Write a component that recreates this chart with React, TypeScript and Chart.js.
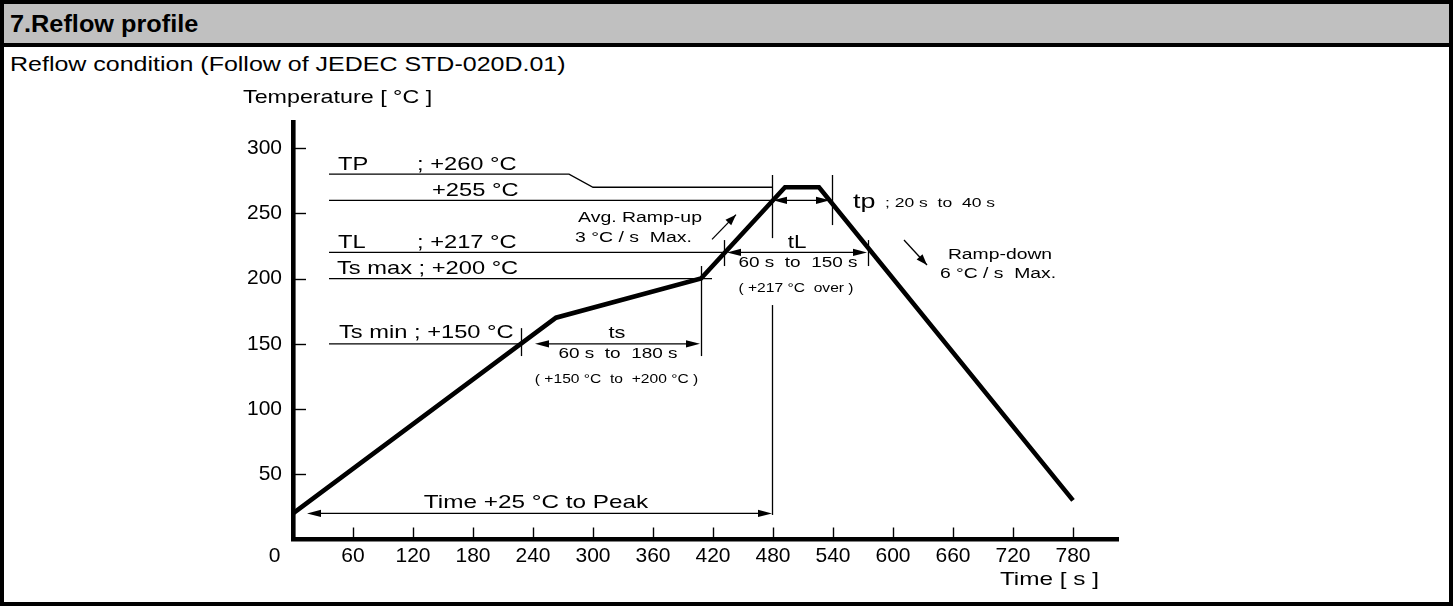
import React, { useEffect, useRef } from "react";
import { Chart, registerables } from "chart.js";

Chart.register(...registerables);

// ---- data ----
const profileTimes = [0, 263, 408, 492, 526, 780];
const profileTemps = [20, 170, 200, 270, 270, 30];
const xTickValues = [60, 120, 180, 240, 300, 360, 420, 480, 540, 600, 660, 720, 780];
const yTickValues = [50, 100, 150, 200, 250, 300];
const timeRange = [0, 825];
const tempRange = [0, 320];

// guide level lines as [time, temp] polylines
const levelTP = [[36, 280], [276, 280], [300, 270], [479, 270]];
const level255 = [[36, 260], [479, 260]];
const levelTL = [[36, 220], [431, 220]];
const levelTsMax = [[36, 200], [419, 200]];
const levelTsMin = [[36, 150], [228, 150]];
const levelLines = [levelTP, level255, levelTL, levelTsMax, levelTsMin];

// vertical markers: [time, fromTemp, toTemp]
const markerLines = [
  [228, 140.6, 162],
  [408, 140.6, 209.6],
  [431, 209.6, 229.5],
  [575, 209.6, 229.5],
  [479, 231, 279.4],
  [479, 18.8, 179.7],
  [539, 241, 279.4],
];

// double-headed span arrows: [fromTime, toTime, temp]
const spanArrows = [
  [242, 407, 150],
  [434, 574, 220],
  [480, 537, 260],
  [14, 479, 20],
];

// single-headed slope arrows: [t1, T1, t2, T2] (head at t2,T2)
const slopeArrows = [
  [419, 230, 443, 249],
  [611, 229.6, 634, 210.4],
];

// annotation texts: [text, time, temp, align]
const annotationTexts: [string, number, number, CanvasTextAlign][] = [
  ["TP", 45, 287, "left"],
  ["; +260 °C", 124, 287, "left"],
  ["+255 °C", 139, 267.3, "left"],
  ["TL", 45, 227.3, "left"],
  ["; +217 °C", 124, 227.3, "left"],
  ["Ts max ; +200 °C", 44, 207.3, "left"],
  ["Ts min ; +150 °C", 46, 158, "left"],
  ["ts", 324, 158, "center"],
  ["60 s  to  180 s", 325, 142.2, "center"],
  ["( +150 °C  to  +200 °C )", 323.5, 122.3, "center"],
  ["Avg. Ramp-up", 347, 246.4, "center"],
  ["3 °C / s  Max.", 340.5, 231.1, "center"],
  ["tL", 504, 227.5, "center"],
  ["60 s  to  150 s", 505, 211.7, "center"],
  ["( +217 °C  over )", 503, 192.5, "center"],
  ["tp", 560, 258.5, "left"],
  ["; 20 s  to  40 s", 592, 258, "left"],
  ["Ramp-down", 707, 218, "center"],
  ["6 °C / s  Max.", 705, 203.3, "center"],
  ["Time +25 °C to Peak", 243, 28.2, "center"],
  ["Temperature [ °C ]", -50, 338.2, "left"],
  ["Time [ s ]", 806, -31, "right"],
];
const originLabel = ["0", -18.5, -12.6];

// ---- styles ----
const FONT = '"Liberation Sans", Arial, Helvetica, sans-serif';
const SX = 1.28;
const textSizes: Record<string, number> = {
  "TP": 18.5, "; +260 °C": 18.5, "+255 °C": 18.5, "TL": 18.5, "; +217 °C": 18.5,
  "Ts max ; +200 °C": 18.5, "Ts min ; +150 °C": 18.5,
  "ts": 17, "tL": 17.5, "tp": 21,
  "60 s  to  180 s": 14.8, "60 s  to  150 s": 14.8,
  "( +150 °C  to  +200 °C )": 12.2, "( +217 °C  over )": 12.2,
  "Avg. Ramp-up": 15.2, "3 °C / s  Max.": 15.2, "Ramp-down": 15.1, "6 °C / s  Max.": 15.1,
  "; 20 s  to  40 s": 13.7,
  "Time +25 °C to Peak": 19, "Temperature [ °C ]": 18.2, "Time [ s ]": 19,
};

function arrowHead(ctx: CanvasRenderingContext2D, tipX: number, tipY: number, fromX: number, fromY: number, len: number, half: number) {
  const a = Math.atan2(tipY - fromY, tipX - fromX);
  ctx.beginPath();
  ctx.moveTo(tipX, tipY);
  ctx.lineTo(tipX - len * Math.cos(a) + half * Math.sin(a), tipY - len * Math.sin(a) - half * Math.cos(a));
  ctx.lineTo(tipX - len * Math.cos(a) - half * Math.sin(a), tipY - len * Math.sin(a) + half * Math.cos(a));
  ctx.closePath();
  ctx.fill();
}

const annotationPlugin = {
  id: "reflowAnnotations",
  afterDatasetsDraw(chart: any) {
    const ctx: CanvasRenderingContext2D = chart.ctx;
    const xs = chart.scales.x;
    const ys = chart.scales.y;
    const X = (t: number) => xs.getPixelForValue(t);
    const Y = (v: number) => ys.getPixelForValue(v);
    const area = chart.chartArea;
    ctx.save();
    ctx.strokeStyle = "#000";
    ctx.fillStyle = "#000";
    ctx.lineCap = "butt";

    // tick marks (inside)
    ctx.lineWidth = 1.4;
    yTickValues.forEach((v) => {
      const y = Math.round(Y(v)) + 0.5;
      ctx.beginPath();
      ctx.moveTo(area.left, y);
      ctx.lineTo(area.left + 13, y);
      ctx.stroke();
    });
    xTickValues.forEach((v) => {
      const x = Math.round(X(v)) + 0.5;
      ctx.beginPath();
      ctx.moveTo(x, area.bottom);
      ctx.lineTo(x, area.bottom - 12);
      ctx.stroke();
    });

    // level lines
    ctx.lineWidth = 1.3;
    levelLines.forEach((pts) => {
      ctx.beginPath();
      pts.forEach(([t, v], i) => {
        const px = X(t), py = Y(v);
        if (i === 0) ctx.moveTo(px, py); else ctx.lineTo(px, py);
      });
      ctx.stroke();
    });

    // markers
    markerLines.forEach(([t, a, b]) => {
      const x = Math.round(X(t)) + 0.5;
      ctx.beginPath();
      ctx.moveTo(x, Y(a));
      ctx.lineTo(x, Y(b));
      ctx.stroke();
    });

    // span arrows
    spanArrows.forEach(([t1, t2, v]) => {
      const x1 = X(t1), x2 = X(t2), y = Y(v);
      ctx.beginPath();
      ctx.moveTo(x1 + 6, y);
      ctx.lineTo(x2 - 6, y);
      ctx.stroke();
      arrowHead(ctx, x1, y, x2, y, 14, 3.6);
      arrowHead(ctx, x2, y, x1, y, 14, 3.6);
    });

    // slope arrows
    slopeArrows.forEach(([t1, v1, t2, v2]) => {
      const x1 = X(t1), y1 = Y(v1), x2 = X(t2), y2 = Y(v2);
      ctx.beginPath();
      ctx.moveTo(x1, y1);
      ctx.lineTo(x2, y2);
      ctx.stroke();
      arrowHead(ctx, x2, y2, x1, y1, 11, 4);
    });

    // texts
    ctx.textBaseline = "middle";
    annotationTexts.forEach(([s, t, v, align]) => {
      ctx.save();
      ctx.translate(X(t), Y(v));
      ctx.scale(SX, 1);
      ctx.font = `${textSizes[s] || 16}px ${FONT}`;
      ctx.textAlign = align;
      ctx.fillText(s, 0, 0);
      ctx.restore();
    });
    ctx.font = `21px ${FONT}`;
    ctx.textAlign = "center";
    ctx.fillText(originLabel[0] as string, X(originLabel[1] as number), Y(originLabel[2] as number));
    ctx.restore();
  },
};

export default function App() {
  const canvasRef = useRef<HTMLCanvasElement | null>(null);

  useEffect(() => {
    const canvas = canvasRef.current;
    if (!canvas) return;
    const tickFont = { family: FONT, size: 21 };
    const chart = new Chart(canvas, {
      type: "line",
      data: {
        datasets: [
          {
            data: profileTimes.map((t, i) => ({ x: t, y: profileTemps[i] })),
            borderColor: "#000",
            borderWidth: 4.6,
            pointRadius: 0,
            tension: 0,
            fill: false,
            borderJoinStyle: "miter",
          },
        ],
      },
      options: {
        animation: false,
        responsive: false,
        events: [],
        layout: { padding: { left: 233, top: 122, right: 335, bottom: 26.5 } },
        plugins: { legend: { display: false }, tooltip: { enabled: false }, title: { display: false } },
        scales: {
          x: {
            type: "linear",
            min: timeRange[0],
            max: timeRange[1],
            grid: { display: false, drawTicks: false },
            border: { display: true, color: "#000", width: 4.6 },
            ticks: { font: tickFont, color: "#000", padding: 4, maxRotation: 0, autoSkip: false },
            afterBuildTicks: (s: any) => {
              s.ticks = xTickValues.map((v) => ({ value: v }));
            },
            afterFit: (s: any) => {
              s.height = 40;
            },
          },
          y: {
            type: "linear",
            min: tempRange[0],
            max: tempRange[1],
            grid: { display: false, drawTicks: false },
            border: { display: true, color: "#000", width: 4.6 },
            ticks: { font: tickFont, color: "#000", padding: 11 },
            afterBuildTicks: (s: any) => {
              s.ticks = yTickValues.map((v) => ({ value: v }));
            },
            afterFit: (s: any) => {
              s.width = 60;
            },
          },
        },
      } as any,
      plugins: [annotationPlugin],
    });
    return () => chart.destroy();
  }, []);

  const stretched = (sx: number, extra: React.CSSProperties): React.CSSProperties => ({
    position: "absolute",
    left: 10,
    whiteSpace: "nowrap",
    transform: `scaleX(${sx})`,
    transformOrigin: "left center",
    fontFamily: FONT,
    color: "#000",
    lineHeight: 1,
    ...extra,
  });

  return (
    <div
      style={{
        position: "absolute",
        left: 0,
        top: 0,
        width: 1453,
        height: 606,
        background: "#fff",
        overflow: "hidden",
      }}
    >
      <div style={{ position: "absolute", left: 0, top: 0, width: 1453, height: 606, boxSizing: "border-box", border: "4px solid #000" }} />
      <div style={{ position: "absolute", left: 4, top: 4, width: 1445, height: 39, background: "#c0c0c0" }} />
      <div style={{ position: "absolute", left: 4, top: 43, width: 1445, height: 4, background: "#000" }} />
      <div style={stretched(1.1, { top: 13, fontSize: 23, fontWeight: "bold" })}>7.Reflow profile</div>
      <div style={stretched(1.19, { top: 53, fontSize: 21 })}>Reflow condition (Follow of JEDEC STD-020D.01)</div>
      <canvas ref={canvasRef} width={1453} height={606} style={{ position: "absolute", left: 0, top: 0, width: 1453, height: 606 }} />
    </div>
  );
}
